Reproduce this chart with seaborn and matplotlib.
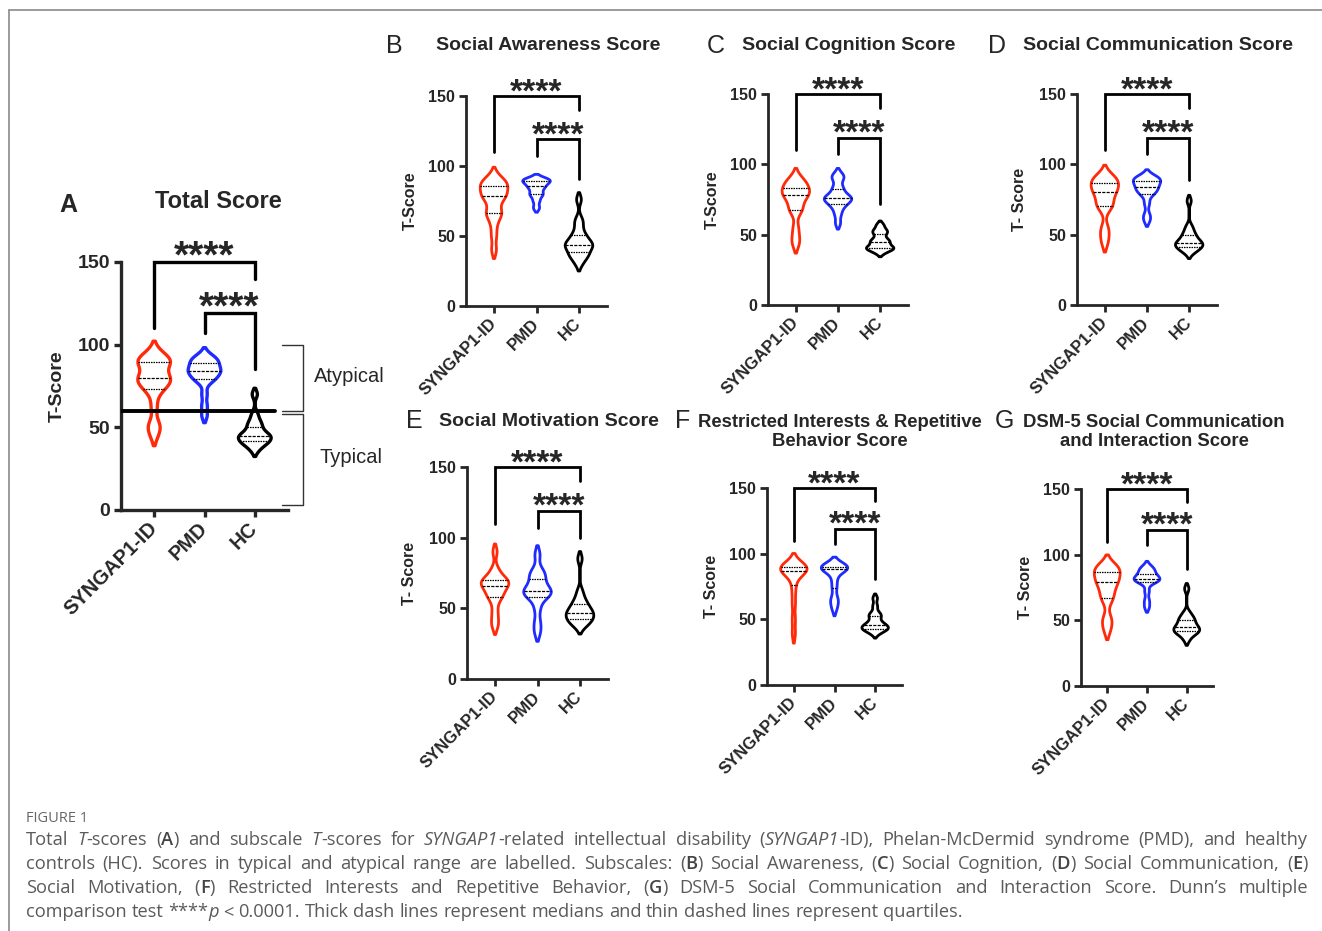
import re
import numpy as np
import pandas as pd
import matplotlib
matplotlib.use("Agg")
import matplotlib.pyplot as plt
import seaborn as sns
from matplotlib.lines import Line2D

# ---------------- data (T-scores) ----------------
GROUPS = ["SYNGAP1-ID", "PMD", "HC"]
COLORS = {"SYNGAP1-ID": "#FF2A0A", "PMD": "#1F2BFF", "HC": "#000000"}
YTICKS = [0, 50, 100, 150]

A_SYNGAP1 = [45, 50, 52, 62, 70, 74, 75, 77, 78, 80, 80, 81, 84, 88, 89, 90, 90, 91, 93, 96]
A_PMD = [57, 63, 70, 77, 79, 80, 81, 83, 84, 84, 85, 86, 88, 89, 90, 91, 92, 94]
A_HC = [36, 39, 40, 41, 42, 43, 44, 45, 45, 46, 48, 50, 52, 54, 58, 70]

B_SYNGAP1 = [40, 50, 58, 64, 66, 67, 72, 76, 78, 79, 80, 82, 85, 86, 87, 88, 90, 93]
B_PMD = [70, 75, 79, 80, 83, 85, 86, 88, 89, 90, 90, 91]
B_HC = [30, 34, 36, 37, 39, 42, 43, 43, 44, 46, 48, 50, 53, 58, 62, 76]

C_SYNGAP1 = [43, 48, 55, 66, 68, 71, 75, 77, 79, 80, 80, 83, 85, 86, 88, 91]
C_PMD = [58, 64, 68, 71, 72, 74, 75, 76, 76, 77, 79, 82, 84, 89, 91, 93]
C_HC = [37, 39, 40, 40, 41, 42, 44, 45, 46, 48, 51, 52, 54, 57]

D_SYNGAP1 = [44, 50, 55, 68, 71, 72, 76, 79, 81, 82, 84, 86, 88, 89, 90, 93]
D_PMD = [60, 64, 72, 78, 80, 81, 83, 84, 85, 87, 88, 89, 90, 90, 92]
D_HC = [37, 39, 40, 41, 42, 43, 44, 44, 45, 47, 49, 50, 53, 56, 74]

E_SYNGAP1 = [37, 42, 48, 55, 58, 60, 62, 64, 66, 67, 68, 69, 70, 71, 74, 78, 90]
E_PMD = [33, 40, 50, 58, 59, 60, 62, 63, 64, 68, 72, 74, 77, 88]
E_HC = [37, 39, 41, 42, 43, 45, 46, 47, 48, 50, 52, 54, 57, 62, 85]

F_SYNGAP1 = [39, 50, 62, 72, 80, 85, 86, 87, 88, 88, 89, 90, 90, 91, 93]
F_PMD = [58, 63, 66, 74, 80, 86, 88, 88, 89, 90, 90, 91, 92]
F_HC = [39, 41, 42, 43, 43, 44, 45, 46, 47, 49, 52, 53, 55, 60, 66]

G_SYNGAP1 = [42, 48, 52, 64, 68, 71, 75, 78, 80, 81, 84, 86, 88, 89, 91, 93]
G_PMD = [60, 65, 72, 79, 80, 80, 81, 82, 83, 84, 86, 88, 89, 91]
G_HC = [35, 39, 40, 41, 42, 43, 44, 45, 46, 48, 50, 51, 53, 56, 74]

TITLES = {
    "A": "Total Score",
    "B": "Social Awareness Score",
    "C": "Social Cognition Score",
    "D": "Social Communication Score",
    "E": "Social Motivation Score",
    "F": "Restricted Interests & Repetitive\nBehavior Score",
    "G": "DSM-5 Social Communication\nand Interaction Score",
}
YLABELS = {"A": "T-Score", "B": "T-Score", "C": "T-Score", "D": "T- Score",
           "E": "T- Score", "F": "T- Score", "G": "T- Score"}
STARS = "****"
RANGE_LABELS = ["Atypical", "Typical"]
THRESHOLD = 60

CAPTION_HEAD = "FIGURE 1"
CAPTION_LINES = [
    "Total {i:T}-scores ({b:A}) and subscale {i:T}-scores for {i:SYNGAP1}-related intellectual disability ({i:SYNGAP1}-ID), Phelan-McDermid syndrome (PMD), and healthy",
    "controls (HC). Scores in typical and atypical range are labelled. Subscales: ({b:B}) Social Awareness, ({b:C}) Social Cognition, ({b:D}) Social Communication, ({b:E})",
    "Social Motivation, ({b:F}) Restricted Interests and Repetitive Behavior, ({b:G}) DSM-5 Social Communication and Interaction Score. Dunn\u2019s multiple",
    "comparison test ****{i:p} < 0.0001. Thick dash lines represent medians and thin dashed lines represent quartiles.",
]

DATA = {
    "A": (A_SYNGAP1, A_PMD, A_HC), "B": (B_SYNGAP1, B_PMD, B_HC),
    "C": (C_SYNGAP1, C_PMD, C_HC), "D": (D_SYNGAP1, D_PMD, D_HC),
    "E": (E_SYNGAP1, E_PMD, E_HC), "F": (F_SYNGAP1, F_PMD, F_HC),
    "G": (G_SYNGAP1, G_PMD, G_HC),
}

# ---------------- layout (pixels) ----------------
W, H = 1322, 931
RECTS = {  # left, top, right, bottom of the plotting area
    "A": (121, 262, 288, 510), "B": (466, 96, 607, 306),
    "C": (768, 94, 908, 305), "D": (1077, 94, 1217, 305),
    "E": (467, 467, 608, 679), "F": (767, 488, 902, 685),
    "G": (1081, 489, 1213, 686),
}
TITLE_POS = {"A": (218, 202), "B": (548, 46), "C": (849, 46), "D": (1158, 46),
             "E": (549, 421), "F": (840, 432), "G": (1154, 432)}
TITLE_FS = {"A": 17, "B": 14, "C": 14, "D": 14, "E": 14, "F": 13.3, "G": 13.3}
LETTER_POS = {"A": (68, 205), "B": (394, 46), "C": (716, 46), "D": (997, 46),
              "E": (414, 421), "F": (683, 421), "G": (1004, 421)}
YLAB_X = {"A": 57, "B": 410, "C": 712, "D": 1020, "E": 410, "F": 712, "G": 1025}


def fx(x):
    return x / W


def fy(y):
    return 1 - y / H


sns.set_style("ticks")
plt.rcParams["font.family"] = ["Liberation Sans", "DejaVu Sans"]

fig = plt.figure(figsize=(W / 100, H / 100), dpi=100)

XLIM = (-0.66, 2.66)

for key in "ABCDEFG":
    big = key == "A"
    l, t, r, b = RECTS[key]
    ax = fig.add_axes([fx(l), fy(b), (r - l) / W, (b - t) / H])
    arrays = DATA[key]
    df = pd.DataFrame({
        "group": np.repeat(GROUPS, [len(a) for a in arrays]),
        "score": np.concatenate([np.asarray(a, float) for a in arrays]),
    })
    lw = 2.4 if big else 2.0
    sns.violinplot(data=df, x="group", y="score", hue="group", order=GROUPS,
                   hue_order=GROUPS, palette=COLORS, fill=False, inner="quart",
                   density_norm="width", width=0.65, bw_adjust=0.5, cut=1.5,
                   linewidth=lw, inner_kws=dict(color="black", linewidth=0.9),
                   legend=False, ax=ax)
    ax.set_xlim(*XLIM)
    ax.set_ylim(0, 150)
    ax.set_yticks(YTICKS)
    ax.set_xticks(range(len(GROUPS)))
    tick_fs = 14 if big else 11.5
    xl_fs = 14.5 if big else 12
    ax.set_yticklabels([str(v) for v in YTICKS], fontsize=tick_fs, fontweight="bold")
    ax.set_xticklabels(GROUPS, fontsize=xl_fs, fontweight="bold", rotation=45,
                       ha="right", va="center", rotation_mode="anchor")
    ax.set_xlabel("")
    ax.set_ylabel(YLABELS[key], fontsize=tick_fs, fontweight="bold")
    ax.yaxis.set_label_coords((YLAB_X[key] - l) / (r - l), 0.5)
    ax.yaxis.label.set_va("center")
    for s in ("top", "right"):
        ax.spines[s].set_visible(False)
    for s in ("left", "bottom"):
        ax.spines[s].set_linewidth(lw)
    ax.tick_params(axis="both", length=5, width=lw, direction="out", pad=3)
    ax.tick_params(axis="x", pad=6)

    # significance brackets
    hc_top = max(arrays[2]) + 15
    bl = dict(color="black", lw=lw, clip_on=False, solid_joinstyle="miter")
    ax.plot([0, 0, 2, 2], [110, 150, 150, 140], **bl)
    ax.plot([1, 1, 2, 2], [107, 119, 119, hc_top], **bl)
    sfs = 28 if big else 24
    up = (17 if big else 14) / 1.389 - 0.575 * sfs
    ax.annotate(STARS, xy=(1, 150), xytext=(0, up), textcoords="offset points",
                ha="center", va="baseline", fontsize=sfs, fontweight="bold",
                annotation_clip=False)
    ax.annotate(STARS, xy=(1.5, 119), xytext=(0, up), textcoords="offset points",
                ha="center", va="baseline", fontsize=sfs, fontweight="bold",
                annotation_clip=False)

    if big:
        ax.axhline(THRESHOLD, xmin=0, xmax=0.92, color="black", lw=2.8, zorder=5)
        rb = dict(color="#333333", lw=1.0, clip_on=False)
        ax.plot([2.55, 2.95, 2.95, 2.55], [100, 100, THRESHOLD, THRESHOLD], **rb)
        ax.plot([2.55, 2.95, 2.95, 2.55], [58, 58, 3, 3], **rb)
        ax.text(3.88, 80.5, RANGE_LABELS[0], ha="center", va="center", fontsize=14.5,
                clip_on=False)
        ax.text(3.92, 31.5, RANGE_LABELS[1], ha="center", va="center", fontsize=14.5,
                clip_on=False)

    # titles and panel letters
    tx, ty = TITLE_POS[key]
    fig.text(fx(tx), fy(ty), TITLES[key], ha="center", va="center",
             fontsize=TITLE_FS[key], fontweight="bold", linespacing=1.1,
             multialignment="center")
    lx, ly = LETTER_POS[key]
    fig.text(fx(lx), fy(ly), key, ha="center", va="center", fontsize=18,
             fontweight="bold" if big else "normal")

# frame lines
fig.add_artist(Line2D([fx(9), 1], [fy(10), fy(10)], color="#8a8a8a", lw=1.2))
fig.add_artist(Line2D([fx(9), fx(9)], [fy(10), 0], color="#8a8a8a", lw=1.2))

# caption
CAP_FONT = ["Open Sans", "DejaVu Sans"]
CAP_COLOR = "#5a5a5a"
CAP_FS = 13.15
fig.text(fx(26), fy(822), CAPTION_HEAD, fontsize=10.5, color="#666666",
         family=CAP_FONT, va="baseline")

renderer = fig.canvas.get_renderer()


def segs(word):
    out = []
    for m in re.finditer(r"\{(i|b):(.*?)\}|([^{]+)", word):
        if m.group(3):
            out.append((m.group(3), "n"))
        else:
            out.append((m.group(2), m.group(1)))
    return out


def style(st):
    d = dict(fontsize=CAP_FS, color=CAP_COLOR, family=CAP_FONT, va="baseline",
             ha="left")
    if st == "i":
        d["fontstyle"] = "italic"
    if st == "b":
        d["fontweight"] = "semibold"
        d["color"] = "#444444"
    return d


probe1 = fig.text(0, 0, "x x", **style("n"))
probe2 = fig.text(0, 0, "xx", **style("n"))
SPACE = probe1.get_window_extent(renderer).width - probe2.get_window_extent(renderer).width
probe1.remove()
probe2.remove()

X0, X1 = 26, 1308
for li, line in enumerate(CAPTION_LINES):
    ybase = 845 + 24 * li
    words = line.split(" ")
    objs, widths = [], []
    for wd in words:
        parts = []
        tot = 0
        for txt, st in segs(wd):
            tobj = fig.text(0, fy(ybase), txt, **style(st))
            w = tobj.get_window_extent(renderer).width
            parts.append((tobj, w))
            tot += w
        objs.append(parts)
        widths.append(tot)
    last = li == len(CAPTION_LINES) - 1
    gap = SPACE if last else (X1 - X0 - sum(widths)) / (len(words) - 1)
    x = X0
    for parts, tot in zip(objs, widths):
        xx = x
        for tobj, w in parts:
            tobj.set_x(fx(xx))
            xx += w
        x += tot + gap

fig.savefig("out.png", dpi=100)
